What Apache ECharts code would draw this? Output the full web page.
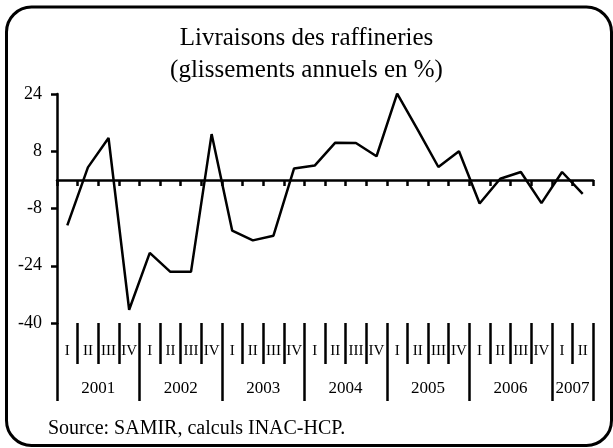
<!DOCTYPE html>
<html>
<head>
<meta charset="utf-8">
<script src="https://cdn.jsdelivr.net/npm/echarts@6/dist/echarts.min.js"></script>
<style>
  html, body { margin: 0; padding: 0; background: #fff; }
  #chart { width: 613px; height: 448px; }
</style>
</head>
<body>
<div id="chart"></div>
<script>
// quarters 2001 Q1 .. 2007 Q2
var quarters = ['I', 'II', 'III', 'IV', 'I', 'II', 'III', 'IV', 'I', 'II', 'III', 'IV',
  'I', 'II', 'III', 'IV', 'I', 'II', 'III', 'IV', 'I', 'II', 'III', 'IV', 'I', 'II']
var years = ['2001', '2002', '2003', '2004', '2005', '2006', '2007']
var quartersPerYear = [4, 4, 4, 4, 4, 4, 2]
var livraisons = [
  -12.7, 3.5, 11.7, -36.3,
  -20.4, -25.7, -25.7, 12.8,
  -14.2, -16.9, -15.6, 3.2,
  4.0, 10.4, 10.3, 6.6,
  24.1, 14.0, 3.6, 8.0,
  -6.6, 0.3, 2.2, -6.5,
  2.2, -3.9
]
var yTicks = [-40, -24, -8, 8, 24]

// year label positions (middle of each group, in quarter units)
var yearMid = {}
var start = 0
years.forEach(function (y, i) {
  yearMid[start + quartersPerYear[i] / 2] = y
  start += quartersPerYear[i]
})
// quarter index where each year starts
var yearStarts = {}
start = 0
quartersPerYear.forEach(function (n) { yearStarts[start] = true; start += n })

var font = 'Liberation Serif'
var chart = echarts.init(document.getElementById('chart'))
chart.setOption({
  backgroundColor: '#fff',
  animation: false,
  title: [{
    text: 'Livraisons des raffineries\n(glissements annuels en %)',
    left: 'center',
    top: 17,
    textStyle: { fontFamily: font, fontWeight: 'normal', fontSize: 25, lineHeight: 32, color: '#000' }
  }, {
    text: 'Source: SAMIR, calculs INAC-HCP.',
    left: 43,
    top: 414,
    textStyle: { fontFamily: font, fontWeight: 'normal', fontSize: 20, color: '#000' }
  }],
  graphic: [{
    type: 'rect',
    shape: { x: 6.5, y: 7, width: 605, height: 438.5, r: 25 },
    style: { fill: 'none', stroke: '#000', lineWidth: 3 },
    silent: true
  }],
  grid: { left: 57, right: 20, top: 94, bottom: 125 },
  xAxis: [{
    // zero line
    type: 'category',
    data: quarters,
    axisLine: { onZero: true, lineStyle: { color: '#000', width: 2.5 } },
    axisTick: { show: true, length: 6, interval: 0, lineStyle: { color: '#000', width: 2.5 } },
    axisLabel: { show: false },
    splitLine: { show: false }
  }, {
    // quarter row
    type: 'category',
    data: quarters,
    position: 'bottom',
    axisLine: { show: false, onZero: false },
    axisTick: { show: true, length: 41, interval: 0, lineStyle: { color: '#000', width: 2.5 } },
    axisLabel: { interval: 0, margin: 21, fontFamily: font, fontSize: 15, color: '#000' },
    splitLine: { show: false }
  }, {
    // year separators
    type: 'category',
    data: quarters,
    position: 'bottom',
    axisLine: { show: false, onZero: false },
    axisTick: {
      show: true,
      length: 78,
      interval: function (index) { return !!yearStarts[index] },
      lineStyle: { color: '#000', width: 2.5 }
    },
    axisLabel: { show: false },
    splitLine: { show: false }
  }, {
    // year labels
    type: 'value',
    min: 0,
    max: quarters.length,
    interval: 1,
    position: 'bottom',
    axisLine: { show: false, onZero: false },
    axisTick: { show: false },
    splitLine: { show: false },
    axisLabel: {
      margin: 57,
      fontFamily: font,
      fontSize: 17,
      color: '#000',
      formatter: function (v) { return yearMid[v] || '' }
    }
  }],
  yAxis: {
    type: 'value',
    min: yTicks[0],
    max: yTicks[yTicks.length - 1],
    interval: 16,
    axisLine: { show: true, onZero: false, lineStyle: { color: '#000', width: 2.5 } },
    axisTick: { show: true, length: 6, lineStyle: { color: '#000', width: 2.5 } },
    axisLabel: { margin: 15, fontFamily: font, fontSize: 18, color: '#000' },
    splitLine: { show: false }
  },
  series: [{
    name: 'Livraisons',
    type: 'line',
    data: livraisons,
    symbol: 'none',
    lineStyle: { color: '#000', width: 2.5 }
  }]
})
</script>
</body>
</html>
